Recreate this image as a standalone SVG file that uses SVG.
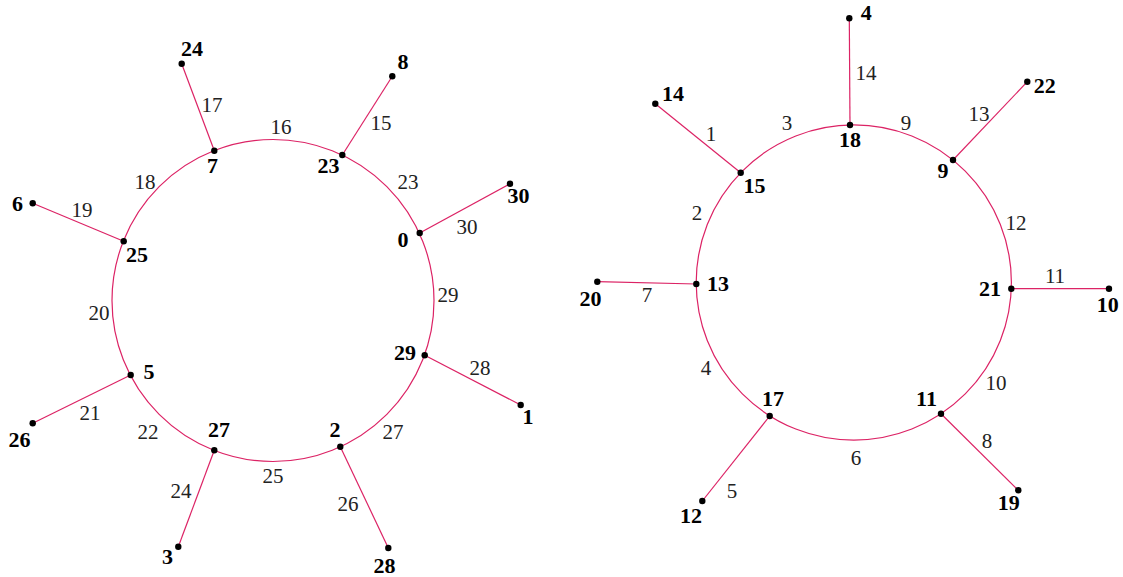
<svg xmlns="http://www.w3.org/2000/svg" width="1123" height="577" viewBox="0 0 1123 577">
<style>
.e{fill:none;stroke:#dc2365;stroke-width:1.2}
.d{fill:#000}
.n{font-family:"Liberation Serif","Times New Roman",serif;font-weight:bold;font-size:22px;fill:#000;text-anchor:middle}
.l{font-family:"Liberation Serif","Times New Roman",serif;font-size:21px;fill:#222;text-anchor:middle}
</style>
<rect width="1123" height="577" fill="#fff"/>
<g id="connectors">
<circle class="e" cx="273" cy="300.5" r="161"/>
<circle class="e" cx="853.8" cy="282.5" r="157.6"/>
<line class="e" x1="214.3" y1="150.7" x2="181.7" y2="63.7"/>
<line class="e" x1="342.3" y1="155" x2="392.3" y2="76.3"/>
<line class="e" x1="419.7" y1="233" x2="510" y2="183.7"/>
<line class="e" x1="424.7" y1="355.3" x2="520.7" y2="405"/>
<line class="e" x1="340.3" y1="446.7" x2="388.3" y2="548"/>
<line class="e" x1="214.3" y1="450.3" x2="178.3" y2="546.7"/>
<line class="e" x1="130.7" y1="375" x2="32.7" y2="423.3"/>
<line class="e" x1="123.7" y1="241.3" x2="32.7" y2="203.3"/>
<line class="e" x1="740.7" y1="172.7" x2="655.3" y2="103.7"/>
<line class="e" x1="850" y1="125" x2="849.3" y2="18.3"/>
<line class="e" x1="953" y1="160" x2="1027.3" y2="81.7"/>
<line class="e" x1="1011.3" y1="288.7" x2="1109" y2="288.7"/>
<line class="e" x1="941" y1="413.7" x2="1018.3" y2="490.3"/>
<line class="e" x1="769.7" y1="416" x2="702.3" y2="501"/>
<line class="e" x1="696.3" y1="284" x2="597.3" y2="281.7"/>
</g>
<g id="edge-labels">
<text class="l" x="281" y="134">16</text>
<text class="l" x="212" y="112">17</text>
<text class="l" x="381" y="130">15</text>
<text class="l" x="145" y="189">18</text>
<text class="l" x="408" y="189">23</text>
<text class="l" x="82" y="217">19</text>
<text class="l" x="467" y="234">30</text>
<text class="l" x="448" y="302">29</text>
<text class="l" x="99" y="320">20</text>
<text class="l" x="480" y="375">28</text>
<text class="l" x="90" y="420">21</text>
<text class="l" x="148" y="439">22</text>
<text class="l" x="393" y="439">27</text>
<text class="l" x="273" y="483">25</text>
<text class="l" x="181" y="498">24</text>
<text class="l" x="348" y="511">26</text>
<text class="l" x="866" y="80">14</text>
<text class="l" x="711" y="141">1</text>
<text class="l" x="787" y="130">3</text>
<text class="l" x="906" y="130">9</text>
<text class="l" x="979" y="121">13</text>
<text class="l" x="697" y="220">2</text>
<text class="l" x="1016" y="230">12</text>
<text class="l" x="1055" y="283">11</text>
<text class="l" x="647" y="302">7</text>
<text class="l" x="706" y="375">4</text>
<text class="l" x="996" y="390">10</text>
<text class="l" x="987" y="448">8</text>
<text class="l" x="856" y="465">6</text>
<text class="l" x="732" y="498">5</text>
</g>
<g id="n24"><circle class="d" cx="181.7" cy="63.7" r="3.2"/><text class="n" x="192" y="56">24</text></g>
<g id="n7"><circle class="d" cx="214.3" cy="150.7" r="3.2"/><text class="n" x="212.5" y="173">7</text></g>
<g id="n25"><circle class="d" cx="123.7" cy="241.3" r="3.2"/><text class="n" x="137" y="262">25</text></g>
<g id="n6"><circle class="d" cx="32.7" cy="203.3" r="3.2"/><text class="n" x="17.5" y="211">6</text></g>
<g id="n8"><circle class="d" cx="392.3" cy="76.3" r="3.2"/><text class="n" x="403" y="69">8</text></g>
<g id="n23"><circle class="d" cx="342.3" cy="155" r="3.2"/><text class="n" x="328.5" y="173">23</text></g>
<g id="n0"><circle class="d" cx="419.7" cy="233" r="3.2"/><text class="n" x="403" y="247">0</text></g>
<g id="n30"><circle class="d" cx="510" cy="183.7" r="3.2"/><text class="n" x="518.5" y="203">30</text></g>
<g id="n5"><circle class="d" cx="130.7" cy="375" r="3.2"/><text class="n" x="149" y="379">5</text></g>
<g id="n26"><circle class="d" cx="32.7" cy="423.3" r="3.2"/><text class="n" x="19.5" y="447">26</text></g>
<g id="n27"><circle class="d" cx="214.3" cy="450.3" r="3.2"/><text class="n" x="219" y="437">27</text></g>
<g id="n3"><circle class="d" cx="178.3" cy="546.7" r="3.2"/><text class="n" x="167.5" y="564">3</text></g>
<g id="n29"><circle class="d" cx="424.7" cy="355.3" r="3.2"/><text class="n" x="405" y="360">29</text></g>
<g id="n1"><circle class="d" cx="520.7" cy="405" r="3.2"/><text class="n" x="528" y="424">1</text></g>
<g id="n2"><circle class="d" cx="340.3" cy="446.7" r="3.2"/><text class="n" x="335" y="437">2</text></g>
<g id="n28"><circle class="d" cx="388.3" cy="548" r="3.2"/><text class="n" x="384.5" y="573">28</text></g>
<g id="r14"><circle class="d" cx="655.3" cy="103.7" r="3.2"/><text class="n" x="673" y="101">14</text></g>
<g id="r15"><circle class="d" cx="740.7" cy="172.7" r="3.2"/><text class="n" x="754.5" y="193">15</text></g>
<g id="r13"><circle class="d" cx="696.3" cy="284" r="3.2"/><text class="n" x="718" y="291">13</text></g>
<g id="r20"><circle class="d" cx="597.3" cy="281.7" r="3.2"/><text class="n" x="590.5" y="306">20</text></g>
<g id="r18"><circle class="d" cx="850" cy="125" r="3.2"/><text class="n" x="850" y="147">18</text></g>
<g id="r4"><circle class="d" cx="849.3" cy="18.3" r="3.2"/><text class="n" x="866.3" y="20">4</text></g>
<g id="r22"><circle class="d" cx="1027.3" cy="81.7" r="3.2"/><text class="n" x="1044.7" y="93">22</text></g>
<g id="r9"><circle class="d" cx="953" cy="160" r="3.2"/><text class="n" x="943" y="178">9</text></g>
<g id="r21"><circle class="d" cx="1011.3" cy="288.7" r="3.2"/><text class="n" x="990" y="296">21</text></g>
<g id="r10"><circle class="d" cx="1109" cy="288.7" r="3.2"/><text class="n" x="1107.7" y="312">10</text></g>
<g id="r17"><circle class="d" cx="769.7" cy="416" r="3.2"/><text class="n" x="773" y="406">17</text></g>
<g id="r12"><circle class="d" cx="702.3" cy="501" r="3.2"/><text class="n" x="691" y="523">12</text></g>
<g id="r11"><circle class="d" cx="941" cy="413.7" r="3.2"/><text class="n" x="926.5" y="406">11</text></g>
<g id="r19"><circle class="d" cx="1018.3" cy="490.3" r="3.2"/><text class="n" x="1008.7" y="510">19</text></g>
</svg>
